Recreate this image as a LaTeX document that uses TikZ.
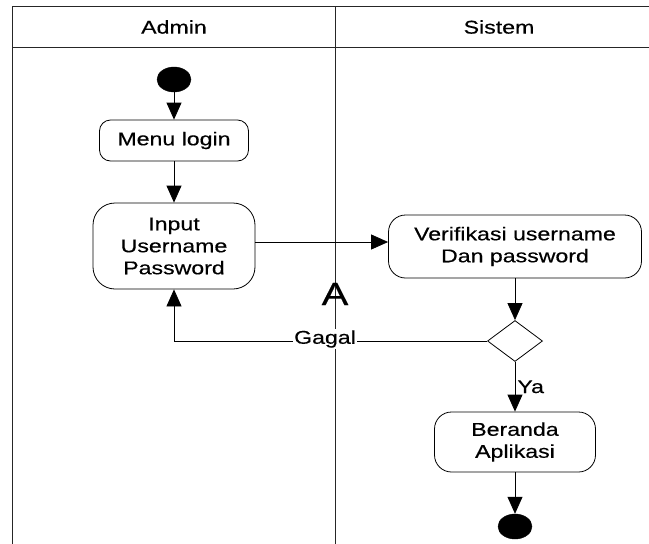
\documentclass[tikz,border=0pt]{standalone}
\usepackage{fontspec}
\setmainfont[FakeStretch=1.25,FakeBold=0.4]{Liberation Sans}
\usetikzlibrary{arrows.meta,shapes.geometric}
\begin{document}
\begin{tikzpicture}[x=1pt,y=-1pt,
  every node/.style={font=\fontsize{18.5}{22}\selectfont, inner sep=0pt},
  frame/.style={draw=black!85, line width=1pt},
  act/.style={draw, line width=0.8pt, rectangle, align=center},
  blob/.style={draw, fill=black, ellipse, minimum width=34pt, minimum height=25pt},
  arr/.style={line width=0.8pt, -{Triangle[length=17pt,width=15pt]}},
  plain/.style={line width=0.8pt}]
\useasboundingbox (0,0) rectangle (649,544);
% swimlane frame
\draw[frame] (12,544) -- (12,6) -- (649,6);
\draw[frame] (12,47) -- (649,47);
\draw[frame] (335,6) -- (335,544);
\node (hadmin) at (174,27) {Admin};
\node (hsistem) at (499,27) {Sistem};
% nodes
\node[blob] (start) at (174,79.5) {};
\node[act, rounded corners=11pt, minimum width=149pt, minimum height=41pt] (menu) at (174,140.5) {Menu login};
\node[act, rounded corners=22pt, minimum width=162pt, minimum height=86pt] (inp) at (174,246) {Input\\Username\\Password};
\node[act, rounded corners=17pt, minimum width=253pt, minimum height=63pt] (ver) at (515,246.5) {Verifikasi username\\Dan password};
\node[draw, line width=0.8pt, diamond, minimum width=55pt, minimum height=41pt, aspect=1.34] (dia) at (515,341) {};
\node[act, rounded corners=17pt, minimum width=161pt, minimum height=60pt] (ber) at (515,442) {Beranda\\Aplikasi};
\node[blob] (stop) at (515,526.5) {};
\node[font=\fontsize{32}{34}\selectfont] (bigA) at (335,294) {A};
% connectors
\draw[arr] (start) -- (menu);
\draw[arr] (menu) -- (inp);
\draw[arr] (inp.east |- 0,242) -- (ver.west |- 0,242);
\draw[arr] (ver) -- (dia);
\draw[arr] (dia.west) -| (inp.south);
\node[fill=white, inner sep=1pt] (gagal) at (325,339) {Gagal};
\draw[arr] (dia) -- node[right, xshift=2pt] (ya) {Ya} (ber);
\draw[arr] (ber) -- (stop);
\end{tikzpicture}
\end{document}
